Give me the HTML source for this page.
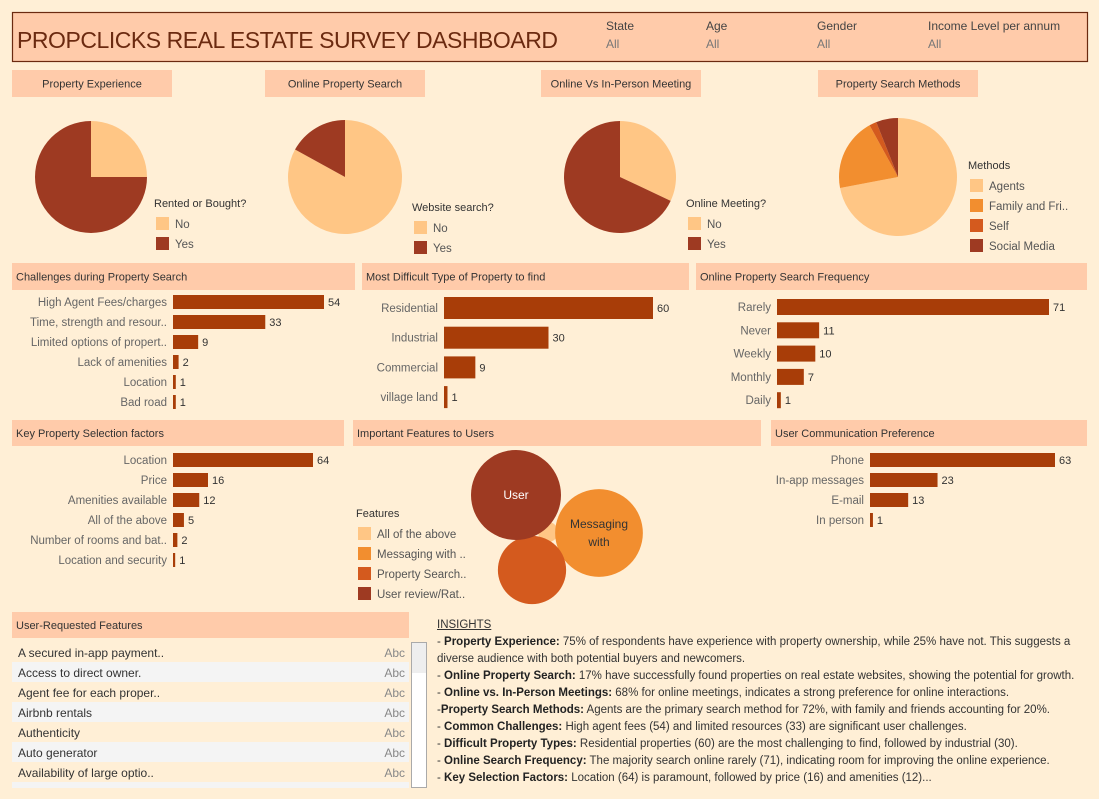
<!DOCTYPE html>
<html><head><meta charset="utf-8"><style>
body{margin:0;background:#FFEFD6;font-family:"Liberation Sans",sans-serif;}
#root{position:relative;width:1099px;height:799px;overflow:hidden;background:#FFEFD6;}
svg{position:absolute;left:0;top:0;}
#insights{position:absolute;left:437px;top:617px;width:655px;font-size:11.5px;line-height:17px;color:#333;white-space:nowrap;}
#insights b{font-weight:bold;color:#222}
</style></head><body>
<div id="root">
<svg id="svg" width="1099" height="799" xmlns="http://www.w3.org/2000/svg"></svg>
<div id="insights">
<div style="text-decoration:underline">INSIGHTS</div>
<div>- <b>Property Experience:</b> 75% of respondents have experience with property ownership, while 25% have not. This suggests a<br>diverse audience with both potential buyers and newcomers.</div>
<div>- <b>Online Property Search:</b> 17% have successfully found properties on real estate websites, showing the potential for growth.</div>
<div>- <b>Online vs. In-Person Meetings:</b> 68% for online meetings, indicates a strong preference for online interactions.</div>
<div>-<b>Property Search Methods:</b> Agents are the primary search method for 72%, with family and friends accounting for 20%.</div>
<div>- <b>Common Challenges:</b> High agent fees (54) and limited resources (33) are significant user challenges.</div>
<div>- <b>Difficult Property Types:</b> Residential properties (60) are the most challenging to find, followed by industrial (30).</div>
<div>- <b>Online Search Frequency:</b> The majority search online rarely (71), indicating room for improving the online experience.</div>
<div>- <b>Key Selection Factors:</b> Location (64) is paramount, followed by price (16) and amenities (12)...</div>
</div>
</div>
<script>
// ---- data ----
const expLabels=["No","Yes"]; const expValues=[25,75];
const webLabels=["No","Yes"]; const webValues=[83,17];
const meetLabels=["No","Yes"]; const meetValues=[32,68];
const methodLabels=["Agents","Family and Fri..","Self","Social Media"]; const methodValues=[72,20,2,6];
const challCats=["High Agent Fees/charges","Time, strength and resour..","Limited options of propert..","Lack of amenities","Location","Bad road"];
const challValues=[54,33,9,2,1,1];
const diffCats=["Residential","Industrial","Commercial","village land"]; const diffValues=[60,30,9,1];
const freqCats=["Rarely","Never","Weekly","Monthly","Daily"]; const freqValues=[71,11,10,7,1];
const keyCats=["Location","Price","Amenities available","All of the above","Number of rooms and bat..","Location and security"];
const keyValues=[64,16,12,5,2,1];
const commCats=["Phone","In-app messages","E-mail","In person"]; const commValues=[63,23,13,1];
const featLabels=["All of the above","Messaging with ..","Property Search..","User review/Rat.."]; const featValues=[2,38,23,40];
const reqFeatures=["A secured in-app payment..","Access to direct owner.","Agent fee for each proper..","Airbnb rentals","Authenticity","Auto generator","Availability of large optio..","Available amenities"];

const NS="http://www.w3.org/2000/svg"; const svg=document.getElementById('svg');
function el(tag,attrs,parent){const e=document.createElementNS(NS,tag);for(const k in attrs)e.setAttribute(k,attrs[k]);(parent||svg).appendChild(e);return e;}
function txt(x,y,s,size,fill,anchor,parent,weight){const t=el('text',{x:x,y:y,'font-size':size,fill:fill,'text-anchor':anchor||'start','font-family':'Liberation Sans, sans-serif','font-weight':weight||'normal'},parent);t.textContent=s;return t;}
const BAR="#A83D08", HDR="#FFCBAA";
const pieCols2=["#FFC685","#9E3A22"], pieCols4=["#FFC685","#F28E2F","#D45A1E","#9E3A22"];

let g=el('g',{});

el('rect',{x:12.5,y:12.5,width:1075,height:49,fill:HDR,stroke:"#6B2A10",'stroke-width':1.2},g);
let tt=txt(17,48,"PROPCLICKS REAL ESTATE SURVEY DASHBOARD",23,"#6B2A10","start",g);
tt.setAttribute('textLength','541');
const filters=[["State",606],["Age",706],["Gender",817],["Income Level per annum",928]];
filters.forEach(f=>{const fg=el('g',{},g);


txt(f[1],30,f[0],12,"#444","start",fg);txt(f[1],48,"All",12,"#777","start",fg);});

function header(x,y,w,h,label,name,center){const hg=el('g',{});

el('rect',{x:x,y:y,width:w,height:h,fill:HDR},hg);
txt(center?x+w/2:x+4,y+h/2+4,label,11,"#333",center?'middle':'start',hg);}

function pie(cx,cy,r,vals,cols,name){const pg=el('g',{});

const tot=vals.reduce((a,b)=>a+b,0);let a0=-Math.PI/2;
vals.forEach((v,i)=>{const a1=a0+v/tot*2*Math.PI;const large=(a1-a0)>Math.PI?1:0;
const p=el('path',{d:`M${cx},${cy} L${cx+r*Math.cos(a0)},${cy+r*Math.sin(a0)} A${r},${r} 0 ${large} 1 ${cx+r*Math.cos(a1)},${cy+r*Math.sin(a1)} Z`,fill:cols[i]},pg);
a0=a1;});}

function legend(x,y,title,labels,cols,name,step){const lg=el('g',{});

txt(x,y,title,11,"#333","start",lg);
labels.forEach((l,i)=>{const yy=y+10+i*step;el('rect',{x:x+2,y:yy,width:13,height:13,fill:cols[i]},lg);txt(x+21,yy+11,l,11.5,"#555","start",lg);});}

header(12,70,160,27,"Property Experience","header-property-experience",true);
header(265,70,160,27,"Online Property Search","header-online-search",true);
header(541,70,160,27,"Online Vs In-Person Meeting","header-online-meeting",true);
header(818,70,160,27,"Property Search Methods","header-search-methods",true);
pie(91,177,56,expValues,pieCols2,"pie-property-experience");
pie(345,177,57,webValues,pieCols2,"pie-online-search");
pie(620,177,56,meetValues,pieCols2,"pie-online-meeting");
pie(898,177,59,methodValues,pieCols4,"pie-search-methods");
legend(154,207,"Rented or Bought?",expLabels,pieCols2,"legend-property-experience",20);
legend(412,211,"Website search?",webLabels,pieCols2,"legend-online-search",20);
legend(686,207,"Online Meeting?",meetLabels,pieCols2,"legend-online-meeting",20);
legend(968,169,"Methods",methodLabels,pieCols4,"legend-search-methods",20);

function bars(cats,vals,x0,wMax,vMax,y0,step,bh,name,labRight){const bg=el('g',{});

const sx=v=>v/vMax*wMax;
cats.forEach((c,i)=>{const y=y0+i*step;
txt(labRight,y+4,c,11.5,"#666","end",bg);
const r=el('rect',{x:x0,y:y-bh/2,width:Math.max(sx(vals[i]),1.5),height:bh,fill:BAR},bg);

txt(x0+sx(vals[i])+4,y+4,String(vals[i]),11,"#333","start",bg);});}

header(12,263,343,27,"Challenges during Property Search","header-challenges");
header(362,263,327,27,"Most Difficult Type of Property to find","header-difficult-type");
header(696,263,391,27,"Online Property Search Frequency","header-search-frequency");
bars(challCats,challValues,173,151,54,302,20,14,"chart-challenges",167);
bars(diffCats,diffValues,444,209,60,308,29.7,22,"chart-difficult-type",438);
bars(freqCats,freqValues,777,272,71,307,23.3,16,"chart-search-frequency",771);

header(12,420,332,26,"Key Property Selection factors","header-key-factors");
header(353,420,408,26,"Important Features to Users","header-important-features");
header(771,420,316,26,"User Communication Preference","header-communication");
bars(keyCats,keyValues,173,140,64,460,20,14,"chart-key-factors",167);
bars(commCats,commValues,870,185,63,460,20,14,"chart-communication",864);

const bubCols=pieCols4;
const bubPos=[[548,532],[599,533],[532,570],[516,495]];
const bubText=[[],["Messaging","with"],[],["User"]];
const bg2=el('g',{});
featValues.forEach((v,i)=>{const r=Math.sqrt(v/40)*45;
const c=el('circle',{cx:bubPos[i][0],cy:bubPos[i][1],r:r,fill:bubCols[i]},bg2);

bubText[i].forEach((s,j)=>txt(bubPos[i][0],bubPos[i][1]-bubText[i].length*9+13+j*18,s,12,i==3?"#fff":"#333","middle",bg2));});
legend(356,517,"Features",featLabels,pieCols4,"legend-features",20);

header(12,612,397,26,"User-Requested Features","header-user-requested");
const tg=el('g',{});
const cp=el('clipPath',{id:'tc'},tg);
el('rect',{x:12,y:642,width:400,height:146},cp);
const tb=el('g',{'clip-path':'url(#tc)'},tg);
reqFeatures.forEach((f,i)=>{const y=642+i*20;
const row=el('g',{},tb);
el('rect',{x:12,y:y,width:397,height:20,fill:i%2?"#F4F4F4":"#FFEFD6"},row);
txt(18,y+15,f,12,"#333","start",row);txt(405,y+15,"Abc",12,"#888","end",row);});
const sb=el('g',{},tg);
el('rect',{x:411.5,y:642.5,width:15,height:145,fill:"#fff",stroke:"#aaa"},sb);
el('rect',{x:412,y:643,width:14,height:30,fill:"#EEE"},sb);
</script>
</body></html>
